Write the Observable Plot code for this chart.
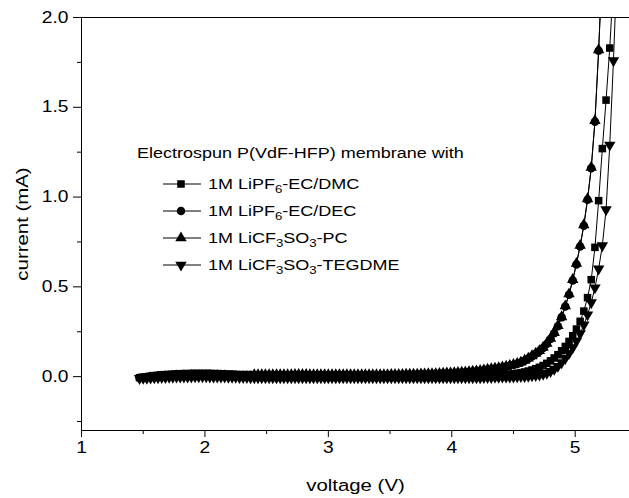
<!DOCTYPE html>
<html><head><meta charset="utf-8">
<script src="https://cdn.jsdelivr.net/npm/d3@7"></script>
<script src="https://cdn.jsdelivr.net/npm/@observablehq/plot@0.6"></script>
<style>
body{margin:0;background:#fff}
#chart svg{display:block}
</style></head><body><div id="chart"></div>
<script>
const voltage = [
1.47,1.50,1.53,1.56,1.59,1.62,1.65,1.68,1.71,1.74,
1.77,1.80,1.83,1.86,1.89,1.92,1.95,1.98,2.01,2.04,
2.07,2.10,2.13,2.16,2.19,2.22,2.25,2.28,2.31,2.34,
2.37,2.40,2.43,2.46,2.49,2.52,2.55,2.58,2.61,2.64,
2.67,2.70,2.73,2.76,2.79,2.82,2.85,2.88,2.91,2.94,
2.97,3.00,3.03,3.06,3.09,3.12,3.15,3.18,3.21,3.24,
3.27,3.30,3.33,3.36,3.39,3.42,3.45,3.48,3.51,3.54,
3.57,3.60,3.63,3.66,3.69,3.72,3.75,3.78,3.81,3.84,
3.87,3.90,3.93,3.96,3.99,4.02,4.05,4.08,4.11,4.14,
4.17,4.20,4.23,4.26,4.29,4.32,4.35,4.38,4.41,4.44,
4.47,4.50,4.53,4.56,4.59,4.62,4.65,4.68,4.71,4.74,
4.77,4.80,4.83,4.86,4.89,4.92,4.95,4.98,5.01,5.04,
5.07,5.10,5.13,5.16,5.19,5.22,5.25,5.28,5.31,5.34];

// 1M LiPF6-EC/DMC (squares)
const ecDmc = [
-0.006,-0.004,-0.002,0.000,0.001,0.002,0.003,0.004,0.005,0.005,
0.006,0.006,0.007,0.007,0.007,0.007,0.007,0.007,0.007,0.006,
0.006,0.006,0.005,0.005,0.004,0.004,0.003,0.003,0.003,0.002,
0.002,0.002,0.002,0.001,0.001,0.001,0.001,0.001,0.001,0.001,
0.001,0.001,0.001,0.001,0.001,0.001,0.001,0.001,0.001,0.001,
0.001,0.001,0.001,0.001,0.001,0.001,0.001,0.001,0.001,0.001,
0.001,0.001,0.001,0.001,0.001,0.001,0.001,0.002,0.002,0.002,
0.002,0.002,0.002,0.002,0.002,0.002,0.002,0.002,0.002,0.002,
0.003,0.003,0.003,0.003,0.003,0.004,0.004,0.004,0.005,0.005,
0.005,0.006,0.006,0.007,0.008,0.008,0.009,0.010,0.011,0.012,
0.014,0.016,0.019,0.022,0.026,0.031,0.037,0.044,0.052,0.062,
0.074,0.088,0.104,0.122,0.144,0.168,0.196,0.228,0.265,0.308,
0.365,0.440,0.540,0.720,0.980,1.270,1.540,1.830,2.200,null];

// 1M LiPF6-EC/DEC (circles)
const ecDec = [
-0.006,-0.003,0.000,0.003,0.005,0.007,0.009,0.010,0.012,0.013,
0.014,0.015,0.016,0.016,0.017,0.017,0.018,0.018,0.017,0.017,
0.016,0.016,0.015,0.014,0.013,0.013,0.012,0.011,0.011,0.010,
0.010,0.009,0.009,0.009,0.008,0.008,0.008,0.008,0.008,0.008,
0.008,0.008,0.007,0.007,0.007,0.007,0.007,0.007,0.007,0.007,
0.007,0.007,0.007,0.007,0.007,0.007,0.007,0.007,0.007,0.007,
0.007,0.007,0.008,0.008,0.008,0.008,0.008,0.008,0.009,0.009,
0.009,0.010,0.010,0.011,0.011,0.012,0.012,0.013,0.013,0.014,
0.015,0.016,0.017,0.018,0.019,0.020,0.021,0.022,0.024,0.025,
0.027,0.029,0.032,0.035,0.038,0.041,0.044,0.047,0.051,0.055,
0.060,0.065,0.071,0.078,0.088,0.100,0.113,0.127,0.142,0.160,
0.182,0.210,0.242,0.280,0.330,0.390,0.456,0.535,0.625,0.725,
0.840,0.985,1.160,1.420,1.815,2.300,null,null,null,null];

// 1M LiCF3SO3-PC (up triangles)
const pc = [
null,null,null,null,null,null,null,null,null,null,
null,null,null,null,null,null,null,null,null,null,
null,null,null,null,null,null,null,null,null,null,
null,0.010,0.010,0.010,0.010,0.010,0.010,0.010,0.010,0.010,
0.010,0.010,0.011,0.011,0.011,0.011,0.010,0.010,0.010,0.010,
0.010,0.010,0.010,0.010,0.010,0.010,0.010,0.010,0.010,0.010,
0.010,0.010,0.010,0.010,0.010,0.010,0.010,0.010,0.011,0.011,
0.011,0.011,0.012,0.012,0.013,0.013,0.014,0.014,0.015,0.015,
0.016,0.017,0.018,0.019,0.020,0.021,0.022,0.024,0.025,0.027,
0.029,0.031,0.034,0.037,0.040,0.043,0.046,0.049,0.053,0.057,
0.062,0.067,0.073,0.080,0.090,0.102,0.115,0.129,0.144,0.162,
0.185,0.212,0.245,0.283,0.333,0.393,0.460,0.540,0.630,0.730,
0.845,0.990,1.165,1.425,1.820,2.300,null,null,null,null];

// 1M LiCF3SO3-TEGDME (down triangles)
const tegdme = [
-0.010,-0.009,-0.008,-0.007,-0.006,-0.005,-0.004,-0.004,-0.003,-0.003,
-0.002,-0.002,-0.001,-0.001,-0.001,0.000,0.000,0.000,0.000,-0.001,
-0.001,-0.001,-0.002,-0.002,-0.003,-0.003,-0.003,-0.004,-0.004,-0.004,
-0.005,-0.005,-0.005,-0.005,-0.005,-0.006,-0.006,-0.006,-0.006,-0.006,
-0.006,-0.006,-0.006,-0.006,-0.006,-0.006,-0.006,-0.006,-0.006,-0.006,
-0.006,-0.006,-0.006,-0.006,-0.006,-0.006,-0.006,-0.006,-0.006,-0.006,
-0.006,-0.006,-0.006,-0.006,-0.006,-0.006,-0.006,-0.006,-0.006,-0.006,
-0.006,-0.006,-0.006,-0.006,-0.006,-0.006,-0.006,-0.006,-0.006,-0.006,
-0.006,-0.006,-0.006,-0.006,-0.006,-0.005,-0.005,-0.005,-0.005,-0.005,
-0.005,-0.005,-0.005,-0.004,-0.004,-0.004,-0.003,-0.003,-0.002,-0.002,
-0.002,-0.001,0.000,0.001,0.002,0.003,0.005,0.007,0.010,0.014,
0.020,0.029,0.042,0.058,0.078,0.102,0.130,0.162,0.198,0.240,
0.288,0.345,0.412,0.495,0.600,0.730,0.930,1.290,1.760,2.300];

const seriesLabels = ["1M LiPF_6-EC/DMC", "1M LiPF_6-EC/DEC", "1M LiCF_3SO_3-PC", "1M LiCF_3SO_3-TEGDME"];
const seriesSymbols = ["square", "circle", "triangle", "triangle"];
const seriesRotate = [0, 0, 0, 180];
const seriesValues = [ecDmc, ecDec, pc, tegdme];
const legendTitle = "Electrospun P(VdF-HFP) membrane with";

const xTicks = [1, 2, 3, 4, 5];
const xMinorTicks = [1.5, 2.5, 3.5, 4.5];
const yTicks = [0, 0.5, 1.0, 1.5, 2.0];
const yMinorTicks = [-0.25, 0.25, 0.75, 1.25, 1.75];

const R = 4.25;
const rowsOf = (vals) => voltage.map((v, k) => ({v, c: vals[k]})).filter(d => d.c != null);

const seriesMarks = seriesValues.flatMap((vals, k) => {
  const rows = rowsOf(vals);
  return [
    Plot.line(rows, {x: "v", y: "c", stroke: "#000", strokeWidth: 1, clip: true}),
    Plot.dot(rows, {x: "v", y: "c", symbol: seriesSymbols[k], r: R, fill: "#000", stroke: "none", rotate: seriesRotate[k], clip: true})
  ];
});

const chart = Plot.plot({
  width: 629, height: 498,
  marginLeft: 81, marginRight: 0, marginTop: 17, marginBottom: 68,
  style: {fontFamily: "'Liberation Sans', Arial, sans-serif", background: "#fff", color: "#000"},
  x: {domain: [1, 5.44]},
  y: {domain: [-0.3, 2.0]},
  marks: [
    ...seriesMarks,
    Plot.ruleX([1], {stroke: "#000"}),
    Plot.ruleY([-0.3, 2.0], {stroke: "#000"}),
    Plot.axisY({ticks: yTicks, tickSize: 8, tickPadding: 5, tickFormat: d3.format(".1f"), fontSize: 16, label: null}),
    Plot.axisY({ticks: yMinorTicks, tickSize: 4, tickFormat: () => "", label: null}),
    Plot.axisY({ticks: [], label: "current (mA)", labelAnchor: "center", labelArrow: "none", labelOffset: 66, fontSize: 17}),
    Plot.axisX({ticks: xTicks, tickSize: 7, tickPadding: 4, tickFormat: d3.format("d"), fontSize: 16, label: null}),
    Plot.axisX({ticks: xMinorTicks, tickSize: 4, tickFormat: () => "", label: null}),
    Plot.axisX({ticks: [], label: "voltage (V)", labelAnchor: "center", labelArrow: "none", labelOffset: 60, fontSize: 17})
  ]
});
document.getElementById("chart").appendChild(chart);

// legend (inside plot area)
const svg = d3.select(chart);
const symbolMap = {square: d3.symbolSquare, circle: d3.symbolCircle, triangle: d3.symbolTriangle};
const lg = svg.append("g").attr("font-size", 15).attr("fill", "#000").attr("text-anchor", "start")
  .attr("font-family", "'Liberation Sans', Arial, sans-serif");
lg.append("text").attr("x", 137).attr("y", 158).text(legendTitle);
seriesLabels.forEach((lab, k) => {
  const cy = 184 + 27 * k;
  lg.append("line").attr("x1", 163).attr("x2", 201).attr("y1", cy).attr("y2", cy).attr("stroke", "#000").attr("stroke-width", 1);
  lg.append("path").attr("d", d3.symbol(symbolMap[seriesSymbols[k]], Math.PI * R * R)())
    .attr("transform", `translate(181,${cy}) rotate(${seriesRotate[k]})`);
  const t = lg.append("text").attr("x", 208).attr("y", cy + 5.5);
  const parts = lab.split(/_(\d)/);
  parts.forEach((p, i) => {
    if (!p) return;
    if (i % 2 === 1) t.append("tspan").attr("font-size", 11).attr("dy", 4).text(p);
    else t.append("tspan").attr("dy", i > 0 ? -4 : 0).text(p);
  });
});

// widen text horizontally to match the reference's stretched lettering
const SX = 1.2;
svg.selectAll("text").each(function() {
  const ax = +this.getAttribute("x") || 0, ay = +this.getAttribute("y") || 0;
  const tr = this.getAttribute("transform") || "";
  this.setAttribute("transform", `${tr} translate(${ax},${ay}) scale(${SX},1) translate(${-ax},${-ay})`);
});
</script></body></html>
